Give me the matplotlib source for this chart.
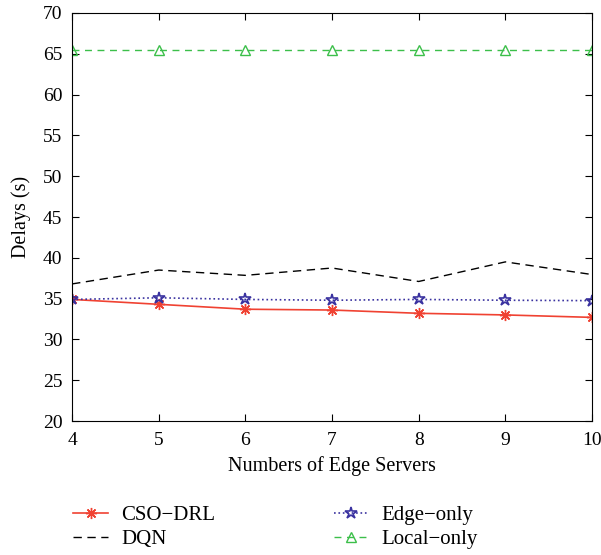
import numpy as np
import matplotlib.pyplot as plt

plt.rcParams['font.family'] = ['Liberation Serif', 'DejaVu Serif']

servers = [4, 5, 6, 7, 8, 9, 10]
cso_drl = [34.9, 34.3, 33.7, 33.6, 33.2, 33.0, 32.7]
dqn = [36.8, 38.5, 37.85, 38.75, 37.1, 39.5, 37.95]
edge_only = [34.9, 35.1, 34.9, 34.8, 34.9, 34.8, 34.75]
local_only = [65.5, 65.5, 65.5, 65.5, 65.5, 65.5, 65.5]

fig = plt.figure(figsize=(6.01, 5.55), dpi=100)
ax = fig.add_axes([0.12, 0.2414, 0.865, 0.7352])

ax.plot(servers, cso_drl, color="#f04232", lw=1.2, marker=(8, 2, 0), ms=8,
        markeredgewidth=1.0, label="CSO\u2212DRL")
ax.plot(servers, dqn, color="black", lw=1.0, ls=(0, (6, 4)), label="DQN")
ax.plot(servers, edge_only, color="#3a32a0", lw=1.2, ls=":", marker="*", ms=9,
        markerfacecolor="none", markeredgewidth=1.2, label="Edge\u2212only")
ax.plot(servers, local_only, color="#3cbf4a", lw=1.0, ls=(0, (5, 4)), marker="^", ms=7,
        markerfacecolor="none", markeredgewidth=1.0, label="Local\u2212only")

ax.set_xlim(4, 10)
ax.set_ylim(20, 70)
ax.set_xticks(servers)
ax.set_yticks(np.arange(20, 71, 5))
ax.tick_params(direction="in", top=True, right=True, labelsize=14, length=5)
ax.tick_params(axis="x", pad=8)
ax.tick_params(axis="y", pad=7)
ax.set_xlabel("Numbers of Edge Servers", fontsize=14.5, labelpad=5)
ax.set_ylabel("Delays (s)", fontsize=14.5)
ax.yaxis.set_label_coords(-0.08, 0.5)

fig.legend(loc="upper left", bbox_to_anchor=(0.1215, 0.0885), ncol=2, frameon=False,
           fontsize=15, columnspacing=5.7, handlelength=1.7, labelspacing=0.2,
           handletextpad=0.6, borderpad=0, borderaxespad=0, numpoints=1)

fig.savefig("out.png", dpi=100)
